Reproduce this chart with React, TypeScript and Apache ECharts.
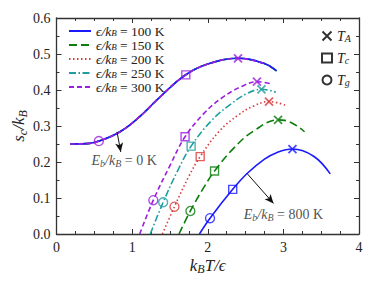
import React, { useEffect, useRef } from "react";
import * as echarts from "echarts";

// epsilon / k_B values (K)
const epsValues = ["100", "150", "200", "250", "300"];
const curveColors = ["#1a1aff", "#0b7d0b", "#d93a3a", "#1e9e9e", "#9b1fe0"];

// E_b/k_B = 0 K curve (all epsilon collapse)
const upperX = [0.18, 0.4, 0.56, 0.84, 1.1, 1.37, 1.7, 2.0, 2.4, 2.74, 2.91];
const upperY = [0.25, 0.251, 0.258, 0.284, 0.326, 0.381, 0.441, 0.472, 0.488, 0.474, 0.453];

// E_b/k_B = 800 K curves
const c100X = [1.89, 2.03, 2.33, 2.52, 2.75, 2.91, 3.12, 3.4, 3.62];
const c100Y = [0.0, 0.044, 0.124, 0.168, 0.208, 0.226, 0.236, 0.216, 0.167];
const c150X = [1.62, 1.77, 1.95, 2.09, 2.35, 2.6, 2.93, 3.1, 3.28];
const c150Y = [0.0, 0.064, 0.13, 0.175, 0.24, 0.285, 0.317, 0.31, 0.284];
const c200X = [1.4, 1.56, 1.75, 1.9, 2.15, 2.4, 2.6, 2.81, 3.05];
const c200Y = [0.0, 0.076, 0.16, 0.215, 0.285, 0.33, 0.355, 0.368, 0.356];
const c250X = [1.24, 1.41, 1.6, 1.78, 2.05, 2.3, 2.5, 2.71, 2.9];
const c250Y = [0.0, 0.088, 0.175, 0.244, 0.315, 0.36, 0.388, 0.402, 0.394];
const c300X = [1.1, 1.28, 1.5, 1.7, 1.95, 2.2, 2.45, 2.65, 2.82];
const c300Y = [0.0, 0.094, 0.19, 0.27, 0.335, 0.38, 0.41, 0.423, 0.418];

// characteristic temperatures (last entry: E_b = 0 curve)
const markerColorIdx = [0, 1, 2, 3, 4, 4];
const tAX = [3.12, 2.93, 2.81, 2.71, 2.65, 2.4];
const tAY = [0.236, 0.317, 0.368, 0.402, 0.423, 0.488];
const tCX = [2.33, 2.09, 1.9, 1.78, 1.7, 1.71];
const tCY = [0.124, 0.175, 0.215, 0.244, 0.27, 0.442];
const tGX = [2.03, 1.77, 1.56, 1.41, 1.28, 0.56];
const tGY = [0.044, 0.064, 0.076, 0.088, 0.094, 0.258];

// annotations
const annotText = ["0", "800"];
const annotX = [0.895, 3.0];
const annotY = [0.205, 0.054];
const arrowFrom = [[0.8, 0.284], [2.52, 0.168]];
const arrowTo = [[0.85, 0.228], [2.87, 0.085]];

const FONT = "'Liberation Serif', 'DejaVu Serif', serif";
const TXT = "#222";

const zip = (xs: number[], ys: number[]) => xs.map((x, i) => [x, ys[i]]);

const lowerCurves = [
  zip(c100X, c100Y),
  zip(c150X, c150Y),
  zip(c200X, c200Y),
  zip(c250X, c250Y),
  zip(c300X, c300Y),
];
const lineTypes: any[] = ["solid", [8, 4], [1.5, 2.5], [7, 2.5, 1.5, 2.5], [5, 3]];

const richBase = (size: number, lh: number) => {
  const ss = Math.round(size * 0.7);
  return {
    i: { fontFamily: FONT, fontStyle: "italic", fontSize: size, color: TXT, lineHeight: lh, verticalAlign: "middle" },
    r: { fontFamily: FONT, fontSize: size, color: TXT, lineHeight: lh, verticalAlign: "middle" },
    s: { fontFamily: FONT, fontStyle: "italic", fontSize: ss, color: TXT, lineHeight: ss, verticalAlign: "bottom" },
  };
};

export default function App() {
  const ref = useRef<HTMLDivElement>(null);
  useEffect(() => {
    if (!ref.current) return;
    const chart = echarts.init(ref.current, null, { renderer: "svg" });

    const series: any[] = [];
    const upperOrder = [1, 2, 3, 0, 4];
    upperOrder.forEach((k) => {
      const pts = zip(upperX, upperY);
      series.push({
        type: "line",
        name: "eps" + epsValues[k],
        data: k === 4 ? pts.slice(0, 10) : pts,
        smooth: 0.4,
        showSymbol: false,
        symbol: "none",
        lineStyle: { color: curveColors[k], width: 1.6, type: lineTypes[k] },
        itemStyle: { color: curveColors[k] },
        silent: true,
      });
    });
    lowerCurves.forEach((pts, k) => {
      series.push({
        type: "line",
        name: "eps" + epsValues[k],
        data: pts,
        smooth: 0.4,
        showSymbol: false,
        symbol: "none",
        lineStyle: { color: curveColors[k], width: 1.6, type: lineTypes[k] },
        itemStyle: { color: curveColors[k] },
        silent: true,
      });
    });

    const markerSeries = (name: string, symbol: string, size: number, xs: number[], ys: number[], bw: number) => ({
      type: "scatter",
      name,
      symbol,
      symbolSize: size,
      itemStyle: { color: "rgba(0,0,0,0)", borderColor: "#000", borderWidth: bw },
      data: xs.map((x, i) => ({
        value: [x, ys[i]],
        itemStyle: { color: "rgba(0,0,0,0)", borderColor: curveColors[markerColorIdx[i]], borderWidth: bw },
      })),
      z: 5,
      silent: true,
    });
    series.push(markerSeries("TA", "path://M0,0L10,10M10,0L0,10", 8, tAX, tAY, 1.8));
    series.push(markerSeries("TC", "rect", 8, tCX, tCY, 1.4));
    series.push(markerSeries("TG", "circle", 9, tGX, tGY, 1.4));

    series.push({
      type: "scatter",
      name: "annot",
      symbolSize: 1,
      itemStyle: { color: "rgba(0,0,0,0)" },
      data: annotX.map((x, i) => ({ value: [x, annotY[i]], name: annotText[i] })),
      label: {
        show: true,
        position: "inside",
        formatter: (p: any) => `{i|E}{s|b}{i|/k}{s|B}{r| = ${p.name} K}`,
        rich: richBase(14, 16),
      },
      markLine: {
        silent: true,
        symbol: ["none", "arrow"],
        symbolSize: [6, 9],
        label: { show: false },
        lineStyle: { color: "#111", width: 1, type: "solid" },
        data: arrowFrom.map((f, i) => [{ coord: f }, { coord: arrowTo[i] }]),
      },
      silent: true,
    });

    const axisLine = { show: true, onZero: false, lineStyle: { color: "#333", width: 1.3 } };
    const tick = { show: true, inside: true, length: 5, lineStyle: { color: "#333", width: 1 } };
    const minor = (n: number) => ({ show: true, splitNumber: n, length: 3, lineStyle: { color: "#333", width: 1 } });

    chart.setOption({
      animation: false,
      grid: { left: 48.5, right: 15, top: 10, bottom: 53, outerBoundsMode: "none", containLabel: false },
      xAxis: [
        {
          type: "value", min: 0, max: 4, interval: 1, position: "bottom",
          axisLine, axisTick: tick, minorTick: minor(4), splitLine: { show: false },
          axisLabel: { fontFamily: FONT, fontSize: 14, color: TXT, margin: 6 },
          name: "{i|k}{s|B}{i|T/ϵ}", nameLocation: "middle", nameGap: 21, nameMoveOverlap: false,
          nameTextStyle: { rich: richBase(17, 20) },
        },
        {
          type: "value", min: 0, max: 4, interval: 1, position: "top",
          axisLine, axisTick: tick, minorTick: minor(4), splitLine: { show: false },
          axisLabel: { show: false },
        },
      ],
      yAxis: [
        {
          type: "value", min: 0, max: 0.6, interval: 0.1, position: "left",
          axisLine, axisTick: tick, minorTick: minor(2), splitLine: { show: false },
          axisLabel: { fontFamily: FONT, fontSize: 14, color: TXT, margin: 6, formatter: (v: number) => v.toFixed(1) },
          name: "{i|s}{s|c}{i|/k}{s|B}", nameLocation: "middle", nameGap: 28, nameRotate: 90, nameMoveOverlap: false,
          nameTextStyle: { rich: richBase(17, 20) },
        },
        {
          type: "value", min: 0, max: 0.6, interval: 0.1, position: "right",
          axisLine, axisTick: tick, minorTick: minor(2), splitLine: { show: false },
          axisLabel: { show: false },
        },
      ],
      legend: [
        {
          data: epsValues.map((e) => "eps" + e),
          orient: "vertical",
          left: 55,
          top: 11,
          itemWidth: 22,
          itemHeight: 8,
          itemGap: 0,
          selectedMode: false,
          itemStyle: { color: "rgba(0,0,0,0)", borderColor: "rgba(0,0,0,0)", borderWidth: 0 },
          formatter: (n: string) => `{i|ϵ/k}{s|B}{r| = ${n.slice(3)} K}`,
          textStyle: { rich: richBase(13.5, 12.4) },
        },
        {
          data: ["TA", "TC", "TG"],
          orient: "vertical",
          left: 308,
          top: 16,
          itemWidth: 10,
          itemHeight: 9,
          itemGap: 8,
          selectedMode: false,
          formatter: (n: string) => `{i|T}{s|${n === "TA" ? "A" : n === "TC" ? "c" : "g"}}`,
          textStyle: { rich: richBase(14, 14) },
        },
      ],
      series,
    });
    return () => chart.dispose();
  }, []);
  return <div ref={ref} style={{ width: 366, height: 279 }} />;
}
